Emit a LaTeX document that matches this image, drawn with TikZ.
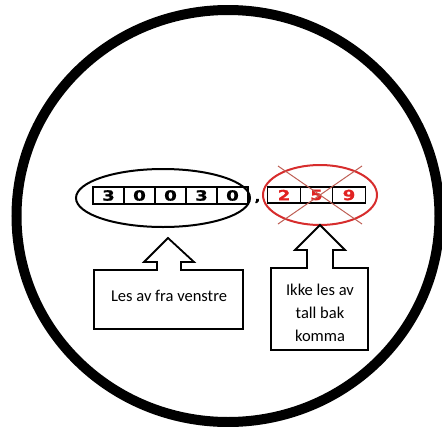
\documentclass[tikz,border=0pt]{standalone}
\usepackage{fontspec}
\setmainfont{Carlito}
\newfontfamily\digfont[FakeStretch=1.3,BoldFeatures={FakeBold=1.2,FakeStretch=1.3}]{DejaVu Sans}
\definecolor{digred}{RGB}{225,35,35}
\definecolor{ellred}{RGB}{215,45,45}
\definecolor{crossred}{RGB}{190,95,85}
\begin{document}
\begin{tikzpicture}[x=1pt,y=-1pt,
  digbox/.style={draw=black,line width=1.1pt,minimum width=31pt,minimum height=17pt,inner sep=0pt,font=\digfont\bfseries\fontsize{14}{14}\selectfont},
  decbox/.style={digbox,minimum width=32.3pt,minimum height=16pt,text=digred},
  callout/.style={draw=black,line width=1.8pt,line join=miter},
  lbl/.style={font=\fontsize{16.5}{23}\selectfont,text=black,align=center,inner sep=0pt}
]
\useasboundingbox (0,0) rectangle (442,426);
\clip (0,0) rectangle (442,426);
% outer circle
\draw[line width=10pt] (228,216) ellipse [x radius=211.5, y radius=206];
% digit boxes
\node[digbox] (d1) at (108.5,195.5) {3};
\node[digbox] (d2) at (139.5,195.5) {0};
\node[digbox] (d3) at (170.5,195.5) {0};
\node[digbox] (d4) at (201.5,195.5) {3};
\node[digbox] (d5) at (232.5,195.5) {0};
\node[font=\digfont\bfseries\fontsize{12}{12}\selectfont,inner sep=0pt] (comma) at (257.5,201) {,};
\node[decbox] (e1) at (284,195) {2};
\node[decbox] (e2) at (316.5,195) {5};
\node[decbox] (e3) at (349,195) {9};
% ellipses
\draw[line width=2pt] (163,198) ellipse [x radius=87, y radius=29];
\draw[ellred,line width=2pt] (320,195) ellipse [x radius=57, y radius=30];
\coordinate (c1) at (278,166);
\coordinate (c2) at (362,224);
\coordinate (c3) at (362,166);
\coordinate (c4) at (278,224);
\draw[crossred,line width=1pt] (c1) -- (c2);
\draw[crossred,line width=1pt] (c3) -- (c4);
% left callout
\draw[callout] (94,270) -- (157,270) -- (157,262) -- (144,262) -- (168,238) -- (194,262) -- (181,262) -- (181,270) -- (243,270) -- (243,329) -- (94,329) -- cycle;
\node[lbl] (t1) at (169,296) {Les av fra venstre};
% right callout
\draw[callout] (271,268) -- (307,268) -- (307,250) -- (295,250) -- (320,225) -- (345,250) -- (333,250) -- (333,268) -- (368,268) -- (368,350) -- (271,350) -- cycle;
\node[lbl] (t2) at (320,313) {Ikke les av\\tall bak\\komma};
\end{tikzpicture}
\end{document}
